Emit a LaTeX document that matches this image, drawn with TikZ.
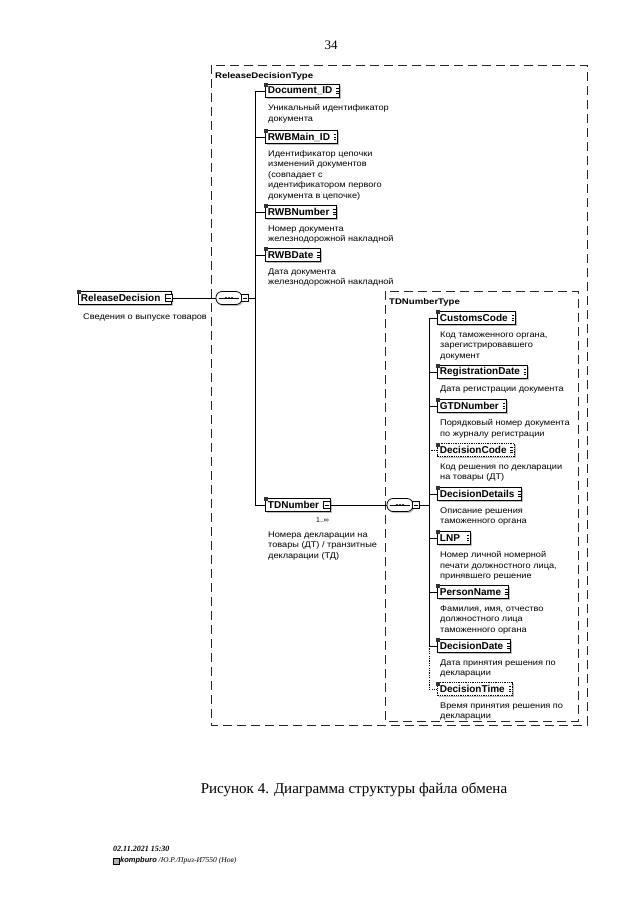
\documentclass[tikz,border=0pt]{standalone}
\usepackage{fontspec}
\setmainfont{Liberation Serif}
\setsansfont{Liberation Sans}
\newfontfamily\elemfont[FakeStretch=1.17]{Liberation Sans}
\newfontfamily\descfont[FakeStretch=1.12]{Liberation Sans}
\usetikzlibrary{shadows}
\tikzset{
  elembox/.style={draw=black, line width=0.9pt, fill=white, anchor=west, minimum height=13pt,
    inner xsep=2.5pt, inner ysep=0pt, font=\sffamily\bfseries\fontsize{10}{11}\selectfont,
    drop shadow={shadow xshift=1.5pt, shadow yshift=-1.5pt, fill=black!50}},
  optbox/.style={elembox, line width=0.8pt, dash pattern=on 1.3pt off 1pt},
  desc/.style={anchor=north west, inner sep=0pt, align=left, font=\descfont\fontsize{8.2}{10.5}\selectfont},
  frame/.style={draw=black!85, line width=0.8pt, dash pattern=on 9pt off 5pt},
  typelabel/.style={anchor=west, inner sep=0pt, font=\elemfont\bfseries\fontsize{8.2}{10}\selectfont},
  wire/.style={draw=black, line width=1pt},
  optwire/.style={draw=black, line width=0.8pt, dash pattern=on 1.2pt off 1.2pt},
  seqbox/.style={draw=black, line width=0.8pt, fill=white, rounded corners=6pt, minimum width=26pt,
    minimum height=13pt, inner sep=0pt, drop shadow={shadow xshift=1.2pt, shadow yshift=-1.5pt, fill=black!50}},
  smallsq/.style={draw=black, line width=0.6pt, fill=white, minimum size=7pt, inner sep=0pt},
}
\newcommand{\padr}[1]{\rule{#1}{0pt}}
\newcommand{\cornermark}[1]{\fill[black!80] ([shift={(-0.6,-0.6)}]#1.north west) rectangle ++(4,4);}
\newcommand{\simpleicon}[1]{\draw[line width=0.5pt] ([shift={(-4,-2.5)}]#1.east) -- ++(2.5,0)
  ([shift={(-4,0)}]#1.east) -- ++(2.5,0) ([shift={(-4,2.5)}]#1.east) -- ++(2.5,0);}
\newcommand{\minusin}[1]{\draw[line width=0.6pt] ([xshift=-1.5pt]#1.east) -- ([xshift=1.5pt]#1.west);}
\newcommand{\seqdots}[1]{\draw[line width=0.6pt] ([xshift=3pt]#1.west) -- ([xshift=-3pt]#1.east);
  \fill (#1.center) circle[radius=1.1pt] ([xshift=-3pt]#1.center) circle[radius=1.1pt] ([xshift=3pt]#1.center) circle[radius=1.1pt];}
\begin{document}
\begin{tikzpicture}[x=1pt, y=-1pt]
\fill[white] (0,0) rectangle (640,905);
\useasboundingbox (0,0) rectangle (640,905);

% page number
\node[font=\fontsize{13}{15}\selectfont] (pg) at (331,45) {34};

% frames
\draw[frame] (211,65) rectangle (587,725);
\draw[frame] (385,291) rectangle (578,721);
\node[typelabel] (rdtype) at (215,76) {ReleaseDecisionType};
\node[typelabel] (tdtype) at (389,302) {TDNumberType};

% root element
\node[elembox] (rd) at (78,298) {ReleaseDecision\padr{9pt}};
\cornermark{rd}
\node[smallsq] (rdc) at ([xshift=-4pt]rd.east) {};
\minusin{rdc}
\node[desc] (rddesc) at (83,313.3) {Сведения о выпуске товаров};

% sequence A
\node[seqbox] (seqA) at (229,298) {};
\seqdots{seqA}
\node[smallsq] (sqA) at ([xshift=2.5pt]seqA.east) {};
\minusin{sqA}
\coordinate (spineA) at (255,298);

% outer children
\node[elembox] (docid) at (265,91) {Document\_ID\padr{5pt}};
\cornermark{docid}\simpleicon{docid}
\node[desc] (docdesc) at (268,104.3) {Уникальный идентификатор\\документа};

\node[elembox] (rwbmain) at (265,137) {RWBMain\_ID\padr{5pt}};
\cornermark{rwbmain}\simpleicon{rwbmain}
\node[desc] (rwbmaindesc) at (268,150.3) {Идентификатор цепочки\\изменений документов\\(совпадает с\\идентификатором первого\\документа в цепочке)};

\node[elembox] (rwbnum) at (265,212) {RWBNumber\padr{5pt}};
\cornermark{rwbnum}\simpleicon{rwbnum}
\node[desc] (rwbnumdesc) at (268,225.3) {Номер документа\\железнодорожной накладной};

\node[elembox] (rwbdate) at (265,255) {RWBDate\padr{5pt}};
\cornermark{rwbdate}\simpleicon{rwbdate}
\node[desc] (rwbdatedesc) at (268,268.3) {Дата документа\\железнодорожной накладной};

\node[elembox] (tdnum) at (265,505) {TDNumber\padr{9pt}};
\cornermark{tdnum}
\node[smallsq] (tdc) at ([xshift=-4pt]tdnum.east) {};
\minusin{tdc}
\node[anchor=west, inner sep=0pt, font=\sffamily\fontsize{7}{8}\selectfont] (tdocc) at (316,520) {1..∞};
\node[desc] (tddesc) at (268,531.3) {Номера декларации на\\товары (ДТ) / транзитные\\декларации (ТД)};

% sequence B
\node[seqbox] (seqB) at (400,505) {};
\seqdots{seqB}
\node[smallsq] (sqB) at ([xshift=2.5pt]seqB.east) {};
\minusin{sqB}
\coordinate (spineB) at (429,505);

% inner children
\node[elembox] (customs) at (437,318) {CustomsCode\padr{5pt}};
\cornermark{customs}\simpleicon{customs}
\node[desc] (customsdesc) at (440,331.3) {Код таможенного органа,\\зарегистрировавшего\\документ};

\node[elembox] (regdate) at (437,372) {RegistrationDate\padr{5pt}};
\cornermark{regdate}\simpleicon{regdate}
\node[desc] (regdatedesc) at (440,385.3) {Дата регистрации документа};

\node[elembox] (gtd) at (437,406) {GTDNumber\padr{5pt}};
\cornermark{gtd}\simpleicon{gtd}
\node[desc] (gtddesc) at (440,419.3) {Порядковый номер документа\\по журналу регистрации};

\node[optbox] (deccode) at (437,450) {DecisionCode\padr{5pt}};
\cornermark{deccode}\simpleicon{deccode}
\node[desc] (deccodedesc) at (440,463.3) {Код решения по декларации\\на товары (ДТ)};

\node[elembox] (decdet) at (437,494) {DecisionDetails\padr{5pt}};
\cornermark{decdet}\simpleicon{decdet}
\node[desc] (decdetdesc) at (440,507.3) {Описание решения\\таможенного органа};

\node[elembox] (lnp) at (437,538) {LNP\padr{8pt}};
\cornermark{lnp}\simpleicon{lnp}
\node[desc] (lnpdesc) at (440,551.3) {Номер личной номерной\\печати должностного лица,\\принявшего решение};

\node[elembox] (person) at (437,592) {PersonName\padr{5pt}};
\cornermark{person}\simpleicon{person}
\node[desc] (persondesc) at (440,605.3) {Фамилия, имя, отчество\\должностного лица\\таможенного органа};

\node[elembox] (decdate) at (437,646) {DecisionDate\padr{5pt}};
\cornermark{decdate}\simpleicon{decdate}
\node[desc] (decdatedesc) at (440,659.3) {Дата принятия решения по\\декларации};

\node[optbox] (dectime) at (437,689) {DecisionTime\padr{5pt}};
\cornermark{dectime}\simpleicon{dectime}
\node[desc] (dectimedesc) at (440,702.3) {Время принятия решения по\\декларации};

% connectors
\draw[wire] (rdc.east) -- (seqA.west);
\draw[wire] (sqA.east) -- (spineA);
\draw[wire] (docid.west -| spineA) -- (tdnum.west -| spineA);
\foreach \n in {docid,rwbmain,rwbnum,rwbdate,tdnum} \draw[wire] (\n.west -| spineA) -- (\n.west);
\draw[wire] (tdc.east) -- (seqB.west);
\draw[wire] (sqB.east) -- (spineB);
\draw[wire] (customs.west -| spineB) -- (decdate.west -| spineB);
\foreach \n in {customs,regdate,gtd,decdet,lnp,person,decdate} \draw[wire] (\n.west -| spineB) -- (\n.west);
\draw[optwire] (deccode.west -| spineB) -- (deccode.west);
\draw[optwire] (decdate.west -| spineB) -- (dectime.west -| spineB) -- (dectime.west);

% caption
\node[font=\fontsize{15}{17}\selectfont] (cap) at (354,790) {Рисунок 4. Диаграмма структуры файла обмена};

% footer
\node[anchor=west, inner sep=0pt, font=\itshape\bfseries\fontsize{8}{9}\selectfont] (fdate) at (113,849) {02.11.2021 15:30};
\draw[line width=0.5pt, fill=black!30] (113,858) rectangle (119,864);
\node[anchor=west, inner sep=0pt, font=\itshape\fontsize{7.5}{9}\selectfont] (fsrc) at (120,861) {{\sffamily\bfseries kompburo} /Ю.Р./Приз-И7550 (Нов)};
\end{tikzpicture}
\end{document}
